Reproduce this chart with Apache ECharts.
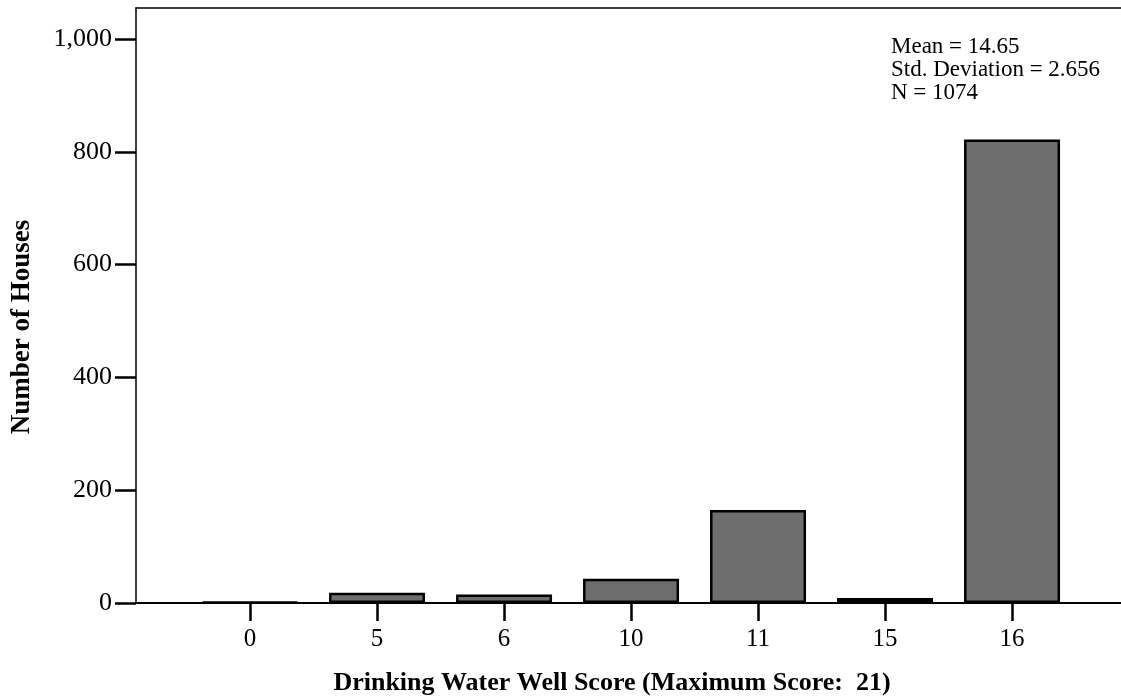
<!DOCTYPE html>
<html>
<head>
<meta charset="utf-8">
<script src="https://cdn.jsdelivr.net/npm/echarts@6/dist/echarts.min.js"></script>
<style>
  html, body { margin: 0; padding: 0; background: #fff; }
  #chart { width: 1121px; height: 700px; }
</style>
</head>
<body>
<div id="chart"></div>
<script>
// Histogram of drinking water well scores
const scoreLabels = ['0', '5', '6', '10', '11', '15', '16'];
const houseCounts = [2, 18, 15, 43, 165, 9, 822];
const yTicks = [0, 200, 400, 600, 800, 1000];
const statsLines = ['Mean = 14.65', 'Std. Deviation = 2.656', 'N = 1074'];
const xTitle = 'Drinking Water Well Score (Maximum Score:  21)';
const yTitle = 'Number of Houses';

const positions = scoreLabels.map((_, i) => i);
const serif = '"Liberation Serif", "DejaVu Serif", serif';

const chart = echarts.init(document.getElementById('chart'), null, { renderer: 'canvas' });

chart.setOption({
  backgroundColor: '#ffffff',
  animation: false,
  grid: { left: 136, right: 0, top: 8, bottom: 97, containLabel: false },
  xAxis: [
    {
      type: 'value',
      min: -0.898,
      max: 6.858,
      position: 'bottom',
      splitLine: { show: false },
      axisLine: { show: true, onZero: false, lineStyle: { color: '#000', width: 2 } },
      axisTick: {
        show: true,
        customValues: positions,
        length: 18,
        inside: false,
        lineStyle: { color: '#000', width: 2.5 }
      },
      axisLabel: {
        customValues: positions,
        formatter: v => scoreLabels[Math.round(v)],
        color: '#000',
        fontFamily: serif,
        fontSize: 25,
        margin: 24
      }
    },
    {
      // top frame line
      type: 'value',
      min: -0.898,
      max: 6.858,
      position: 'top',
      splitLine: { show: false },
      axisLine: { show: true, onZero: false, lineStyle: { color: '#000', width: 1.5 } },
      axisTick: { show: false },
      axisLabel: { show: false }
    }
  ],
  yAxis: {
    type: 'value',
    min: 0,
    max: 1055,
    splitLine: { show: false },
    axisLine: { show: true, onZero: false, lineStyle: { color: '#000', width: 1.5 } },
    axisTick: {
      show: true,
      customValues: yTicks,
      length: 21,
      lineStyle: { color: '#000', width: 2.5 }
    },
    axisLabel: {
      customValues: yTicks,
      formatter: v => v.toLocaleString('en-US'),
      color: '#000',
      fontFamily: serif,
      fontSize: 26,
      margin: 24
    }
  },
  graphic: [
    ...statsLines.map((t, i) => ({
      type: 'text',
      left: 891,
      top: 35 + i * 23,
      style: { text: t, fill: '#000', font: '23px ' + serif }
    })),
    {
      type: 'text',
      x: 612,
      y: 683,
      style: {
        text: xTitle, fill: '#000', font: 'bold 26px ' + serif,
        textAlign: 'center', textVerticalAlign: 'middle'
      }
    },
    {
      type: 'text',
      x: 22,
      y: 327,
      rotation: Math.PI / 2,
      style: {
        text: yTitle, fill: '#000', font: 'bold 27px ' + serif,
        textAlign: 'center', textVerticalAlign: 'middle'
      }
    }
  ],
  series: [
    {
      type: 'bar',
      xAxisIndex: 0,
      barWidth: 96,
      data: positions.map(i => [i, houseCounts[i]]),
      itemStyle: { color: '#6e6e6e', borderColor: '#000', borderWidth: 2.5 }
    }
  ]
});
</script>
</body>
</html>
